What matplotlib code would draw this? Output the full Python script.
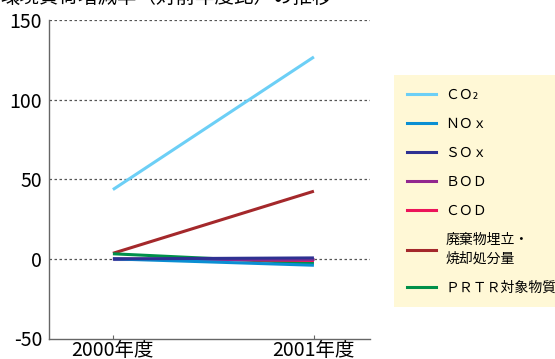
import matplotlib.pyplot as plt
from matplotlib.lines import Line2D

plt.rcParams['font.family'] = ['Noto Sans CJK JP', 'DejaVu Sans']
plt.rcParams['axes.unicode_minus'] = False

years = ["2000年度", "2001年度"]
labels = ["ＣＯ₂", "ＮＯｘ", "ＳＯｘ", "ＢＯＤ", "ＣＯＤ", "廃棄物埋立・\n焼却処分量", "ＰＲＴＲ対象物質"]
co2 = [43.5, 126.8]
nox = [0.0, -4.0]
sox = [0.0, 0.6]
bod = [0.0, 0.0]
cod = [0.0, -1.0]
waste = [3.5, 42.5]
prtr = [3.2, -2.8]
colors = ["#6ccff6", "#0a8fd3", "#2e3192", "#92278f", "#ec145a", "#a4282b", "#00904a"]

fig = plt.figure(figsize=(5.55, 3.59), dpi=100)
ax = fig.add_axes([49/555, 1-338.5/359, (370-49)/555, (338.5-20)/359])

x = [0, 1]
# draw back to front so the flat lines near zero stack sensibly
order = [(co2, 0), (waste, 5), (prtr, 6), (cod, 4), (bod, 3), (nox, 1), (sox, 2)]
for vals, i in order:
    ax.plot(x, vals, color=colors[i], lw=2.2, solid_capstyle='butt')

ax.set_xlim(-0.318, 1.279)
ax.set_ylim(-50, 150)
ax.set_yticks([-50, 0, 50, 100, 150])
ax.set_xticks(x)
ax.set_xticklabels(years)
for yv in [0, 50, 100, 150]:
    ax.axhline(yv, color='#555555', lw=0.9, ls=(0, (2, 2)), zorder=0)

for s in ['top', 'right']:
    ax.spines[s].set_visible(False)
for s in ['left', 'bottom']:
    ax.spines[s].set_color('#666666')
    ax.spines[s].set_linewidth(1.0)
ax.tick_params(axis='x', direction='in', length=3, color='#666666', labelsize=14, pad=1)
ax.tick_params(axis='y', length=0, labelsize=14, pad=5)

# heading sits mostly above the canvas
fig.text(0.0, 1 - 8/359, "環境負荷増減率（対前年度比）の推移", fontsize=14, va='bottom', ha='left')

handles = [Line2D([0], [0], color=c, lw=2.2) for c in colors]
leg = fig.legend(handles, labels, loc='upper left', bbox_to_anchor=(394/555, 1-75/359),
                 frameon=True, facecolor='#fff8d6', edgecolor='none', fancybox=False,
                 fontsize=10, handlelength=2.1, handletextpad=0.7, labelspacing=1.08,
                 borderpad=0.9, borderaxespad=0)
leg.get_frame().set_alpha(1)
leg.get_texts()[5].set_linespacing(1.45)

fig.savefig("out.png", dpi=100)
